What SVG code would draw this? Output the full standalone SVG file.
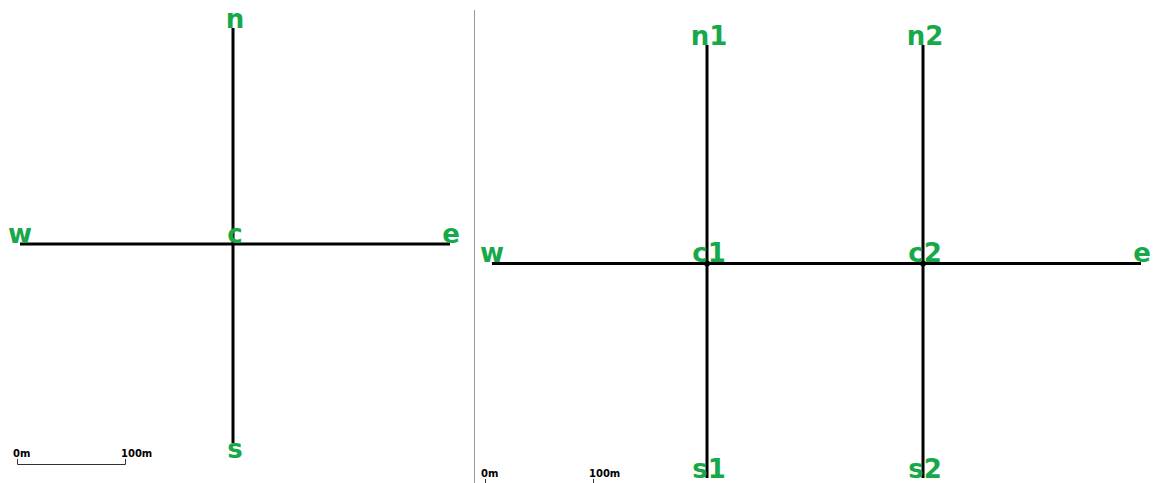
<svg xmlns="http://www.w3.org/2000/svg" width="1153" height="483" viewBox="0 0 1153 483">
<style>
.edge{stroke:#000;stroke-width:3;fill:none}
.lbl{font-family:"DejaVu Sans",sans-serif;font-weight:bold;font-size:26px;fill:#17a84a;text-anchor:middle}
.sc{font-family:"DejaVu Sans",sans-serif;font-weight:bold;font-size:10px;fill:#000}
.bar{stroke:#333;stroke-width:1;fill:none}
</style>
<rect width="1153" height="483" fill="#fff"/>
<line x1="474.5" y1="10" x2="474.5" y2="483" stroke="#999" stroke-width="1"/>
<g id="connectors">
<line class="edge" x1="233" y1="28" x2="233" y2="244"/>
<line class="edge" x1="233" y1="244" x2="233" y2="443"/>
<line class="edge" x1="20" y1="244" x2="233" y2="244"/>
<line class="edge" x1="233" y1="244" x2="450" y2="244"/>
<line class="edge" x1="492" y1="263.5" x2="706" y2="263.5"/>
<line class="edge" x1="706" y1="263.5" x2="923" y2="263.5"/>
<line class="edge" x1="923" y1="263.5" x2="1141" y2="263.5"/>
<line class="edge" x1="707" y1="45" x2="707" y2="263.5"/>
<line class="edge" x1="707" y1="263.5" x2="707" y2="478"/>
<line class="edge" x1="923" y1="45" x2="923" y2="263.5"/>
<line class="edge" x1="923" y1="263.5" x2="923" y2="478"/>
</g>
<g id="n"><text class="lbl" x="235" y="28">n</text></g>
<g id="c"><text class="lbl" x="235" y="243">c</text></g>
<g id="w"><text class="lbl" x="20" y="243">w</text></g>
<g id="e"><text class="lbl" x="451" y="243">e</text></g>
<g id="s"><text class="lbl" x="235" y="458">s</text></g>
<g id="w2"><text class="lbl" x="492" y="262">w</text></g>
<g id="c1"><circle cx="707" cy="263.5" r="3"/><text class="lbl" x="709" y="262">c1</text></g>
<g id="c2"><circle cx="923" cy="263.5" r="3"/><text class="lbl" x="925" y="262">c2</text></g>
<g id="e2"><text class="lbl" x="1142" y="262">e</text></g>
<g id="n1"><text class="lbl" x="709" y="45">n1</text></g>
<g id="n2"><text class="lbl" x="925" y="45">n2</text></g>
<g id="s1"><text class="lbl" x="709" y="478">s1</text></g>
<g id="s2"><text class="lbl" x="925" y="478">s2</text></g>
<g id="scale1">
<path class="bar" d="M17.5,459 V464.5 H125.5 V459"/>
<text class="sc" x="13" y="457">0m</text>
<text class="sc" x="121" y="457">100m</text>
</g>
<g id="scale2">
<path class="bar" d="M485.5,479 V483 M593.5,479 V483"/>
<text class="sc" x="481" y="477">0m</text>
<text class="sc" x="589" y="477">100m</text>
</g>
</svg>
